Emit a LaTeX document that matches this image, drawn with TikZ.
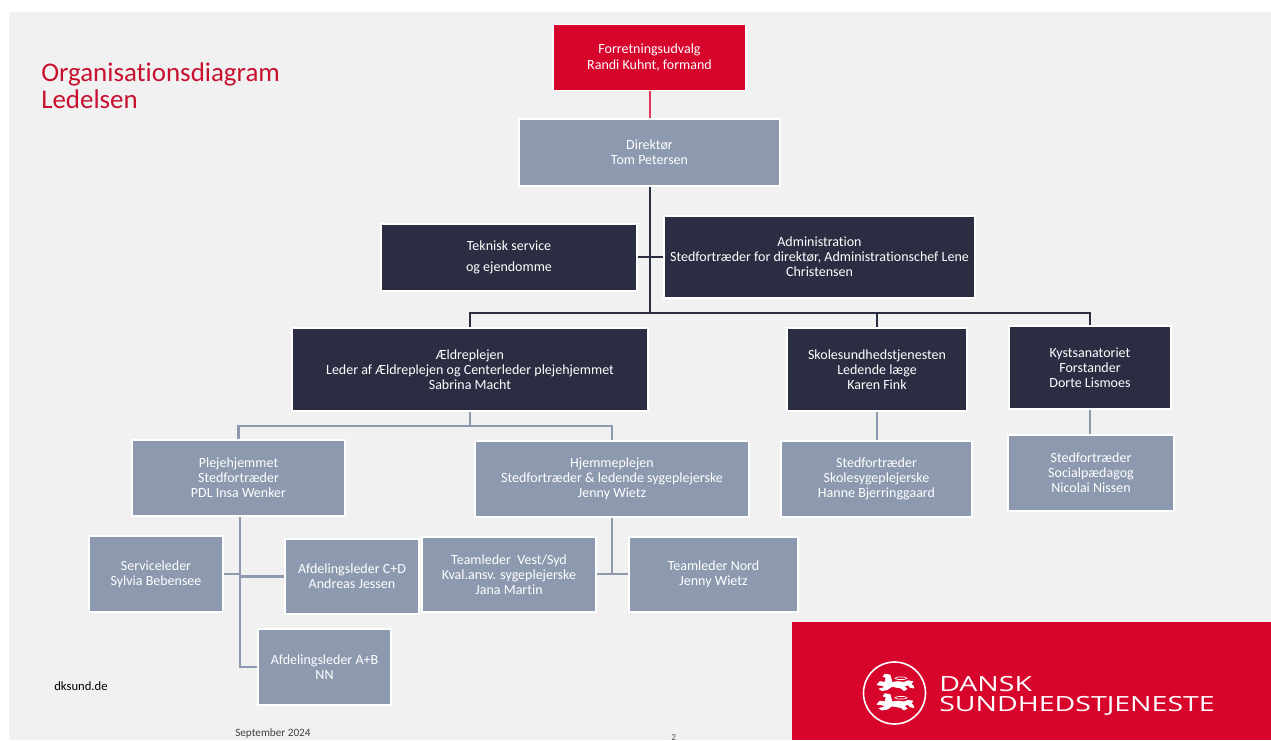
\documentclass[tikz,border=0pt]{standalone}
\usepackage{fontspec}
\setmainfont{Carlito}[Ligatures=NoCommon]
\newfontfamily\logofont{Open Sans}[FakeStretch=1.36]
\definecolor{pagegray}{HTML}{F1F1F1}
\definecolor{slate}{HTML}{8D99AF}
\definecolor{navy}{HTML}{2B2D42}
\definecolor{brand}{HTML}{D7042B}
\definecolor{titlered}{HTML}{C8102E}
\tikzset{
 box/.style={draw=white,line width=1.4pt,align=center,text=white,inner sep=0pt,font=\fontsize{10.5pt}{11.3pt}\selectfont},
 graybox/.style={box,fill=slate},
 darkbox/.style={box,fill=navy},
 redbox/.style={box,fill=brand},
 darkline/.style={draw=navy,line width=1.9pt},
 grayline/.style={draw=slate,line width=1.9pt},
 redline/.style={draw=brand!80!white,line width=1.5pt},
}
\newcommand{\bx}[6]{\node[#1,minimum width=#4*0.75pt,minimum height=#5*0.75pt] (#2) at (#3) {#6};}
\newcommand{\lion}[1]{\begin{scope}[shift={(#1)},yscale=.82]
 \filldraw[white,line width=.5pt,line join=round] (-18,1) -- (-15,-3) -- (-10,-2) -- (-9,-8) -- (-12,-9) -- (-10,-12) -- (-5,-11) -- (-4,-7) -- (-3,-2) -- (3,-3) -- (9,-2) -- (13,-4) -- (18,-3) -- (16,0) -- (18,2) -- (19,5) -- (15,4) -- (13,1) -- (9,3) -- (12,6) -- (9,8) -- (6,5) -- (-3,3) -- (-8,7) -- (-13,8) -- (-16,6) -- (-10,4) -- (-12,2) -- cycle;
 \draw[white,line width=.5pt] (6,-7) ellipse[x radius=6,y radius=1.6];
\end{scope}}
\begin{document}
\begin{tikzpicture}[x=0.75pt,y=-0.75pt]
\useasboundingbox (0,0) rectangle (1271,740);
\fill[white] (0,0) rectangle (1271,740);
\fill[pagegray] (9,12) rectangle (1271,740);
\node[anchor=north west,inner sep=0pt,align=left,text=titlered,font=\fontsize{20.2pt}{20.2pt}\selectfont] (title) at (41,63) {Organisationsdiagram\\Ledelsen};
\bx{redbox}{fu}{649.5,57.5}{193}{66}{Forretningsudvalg\\Randi Kuhnt, formand}
\bx{graybox}{dir}{649.5,152.5}{261}{67}{Direktør\\Tom Petersen}
\bx{darkbox}{tek}{509,257.5}{256}{67}{Teknisk service\\[4pt]og ejendomme}
\bx{darkbox}{adm}{819.5,257}{311}{82}{Administration\\Stedfortræder for direktør, Administrationschef Lene\\Christensen}
\bx{darkbox}{aeld}{470,369.5}{356}{83}{Ældreplejen\\Leder af Ældreplejen og Centerleder plejehjemmet\\Sabrina Macht}
\bx{darkbox}{skole}{877,369.5}{180}{83}{Skolesundhedstjenesten\\Ledende læge\\Karen Fink}
\bx{darkbox}{kyst}{1090,367.5}{162}{83}{Kystsanatoriet\\Forstander\\Dorte Lismoes}
\bx{graybox}{pleje}{238.5,478}{213}{76}{Plejehjemmet\\Stedfortræder\\PDL Insa Wenker}
\bx{graybox}{hjem}{612,479}{274}{76}{Hjemmeplejen\\Stedfortræder \& ledende sygeplejerske\\Jenny Wietz}
\bx{graybox}{sskole}{876.5,479}{191}{76}{Stedfortræder\\Skolesygeplejerske\\Hanne Bjerringgaard}
\bx{graybox}{skyst}{1091,473}{166}{76}{Stedfortræder\\Socialpædagog\\Nicolai Nissen}
\bx{graybox}{serv}{156,574}{134}{76}{Serviceleder\\Sylvia Bebensee}
\bx{graybox}{afdcd}{352,576.5}{134}{75}{Afdelingsleder C+D\\Andreas Jessen}
\bx{graybox}{afdab}{324.5,667}{133}{76}{Afdelingsleder A+B\\NN}
\bx{graybox}{tvs}{509,574.5}{174}{75}{Teamleder\ \ Vest/Syd\\Kval.ansv. sygeplejerske\\Jana Martin}
\bx{graybox}{tn}{713.5,574.5}{169}{75}{Teamleder Nord\\Jenny Wietz}
% connectors
\coordinate (jtop) at (650,313);
\coordinate (jdark) at (650,257);
\coordinate (jsub) at (470,426);
\coordinate (jpl) at (240,574);
\coordinate (jhj) at (612,574);
\draw[redline] (fu.south -| 650,0) -- (dir.north -| 650,0);
\draw[darkline] (dir.south -| jtop) -- (jtop);
\draw[darkline] (tek.east |- jdark) -- (adm.west |- jdark);
\draw[darkline] (aeld.north) |- (jtop) -| (skole.north);
\draw[darkline] (jtop) -| (kyst.north);
\draw[grayline] (aeld.south) -- (jsub);
\draw[grayline] (pleje.north) |- (jsub) -| (hjem.north);
\draw[grayline] (pleje.south -| jpl) |- (afdab.west);
\draw[grayline] (serv.east) -- (jpl);
\draw[grayline] (afdcd.west) -- (jpl |- afdcd.west);
\draw[grayline] (hjem.south) -- (jhj);
\draw[grayline] (tvs.east |- jhj) -- (tn.west |- jhj);
\draw[grayline] (skole.south) -- (sskole.north -| skole.south);
\draw[grayline] (kyst.south) -- (skyst.north -| kyst.south);
% footer
\node[anchor=west,inner sep=0pt,font=\fontsize{9.5pt}{10pt}\selectfont] (web) at (54,686) {dksund.de};
\node[anchor=west,inner sep=0pt,text=black!75,font=\fontsize{8.4pt}{9pt}\selectfont] (date) at (235,734) {September 2024};
\node[anchor=west,inner sep=0pt,text=black!65,font=\fontsize{7pt}{8pt}\selectfont] (pg) at (671,737) {2};
% logo
\fill[brand] (792,622) rectangle (1271,740);
\draw[white,line width=1.2pt] (894.5,693) circle[radius=31];
\lion{895,684}
\lion{895,703.5}
\node[anchor=west,inner sep=0pt,text=white,align=left,font=\logofont\fontsize{15.7pt}{14.6pt}\selectfont] (logo) at (939,696) {DANSK\\SUNDHEDSTJENESTE};
\end{tikzpicture}
\end{document}
